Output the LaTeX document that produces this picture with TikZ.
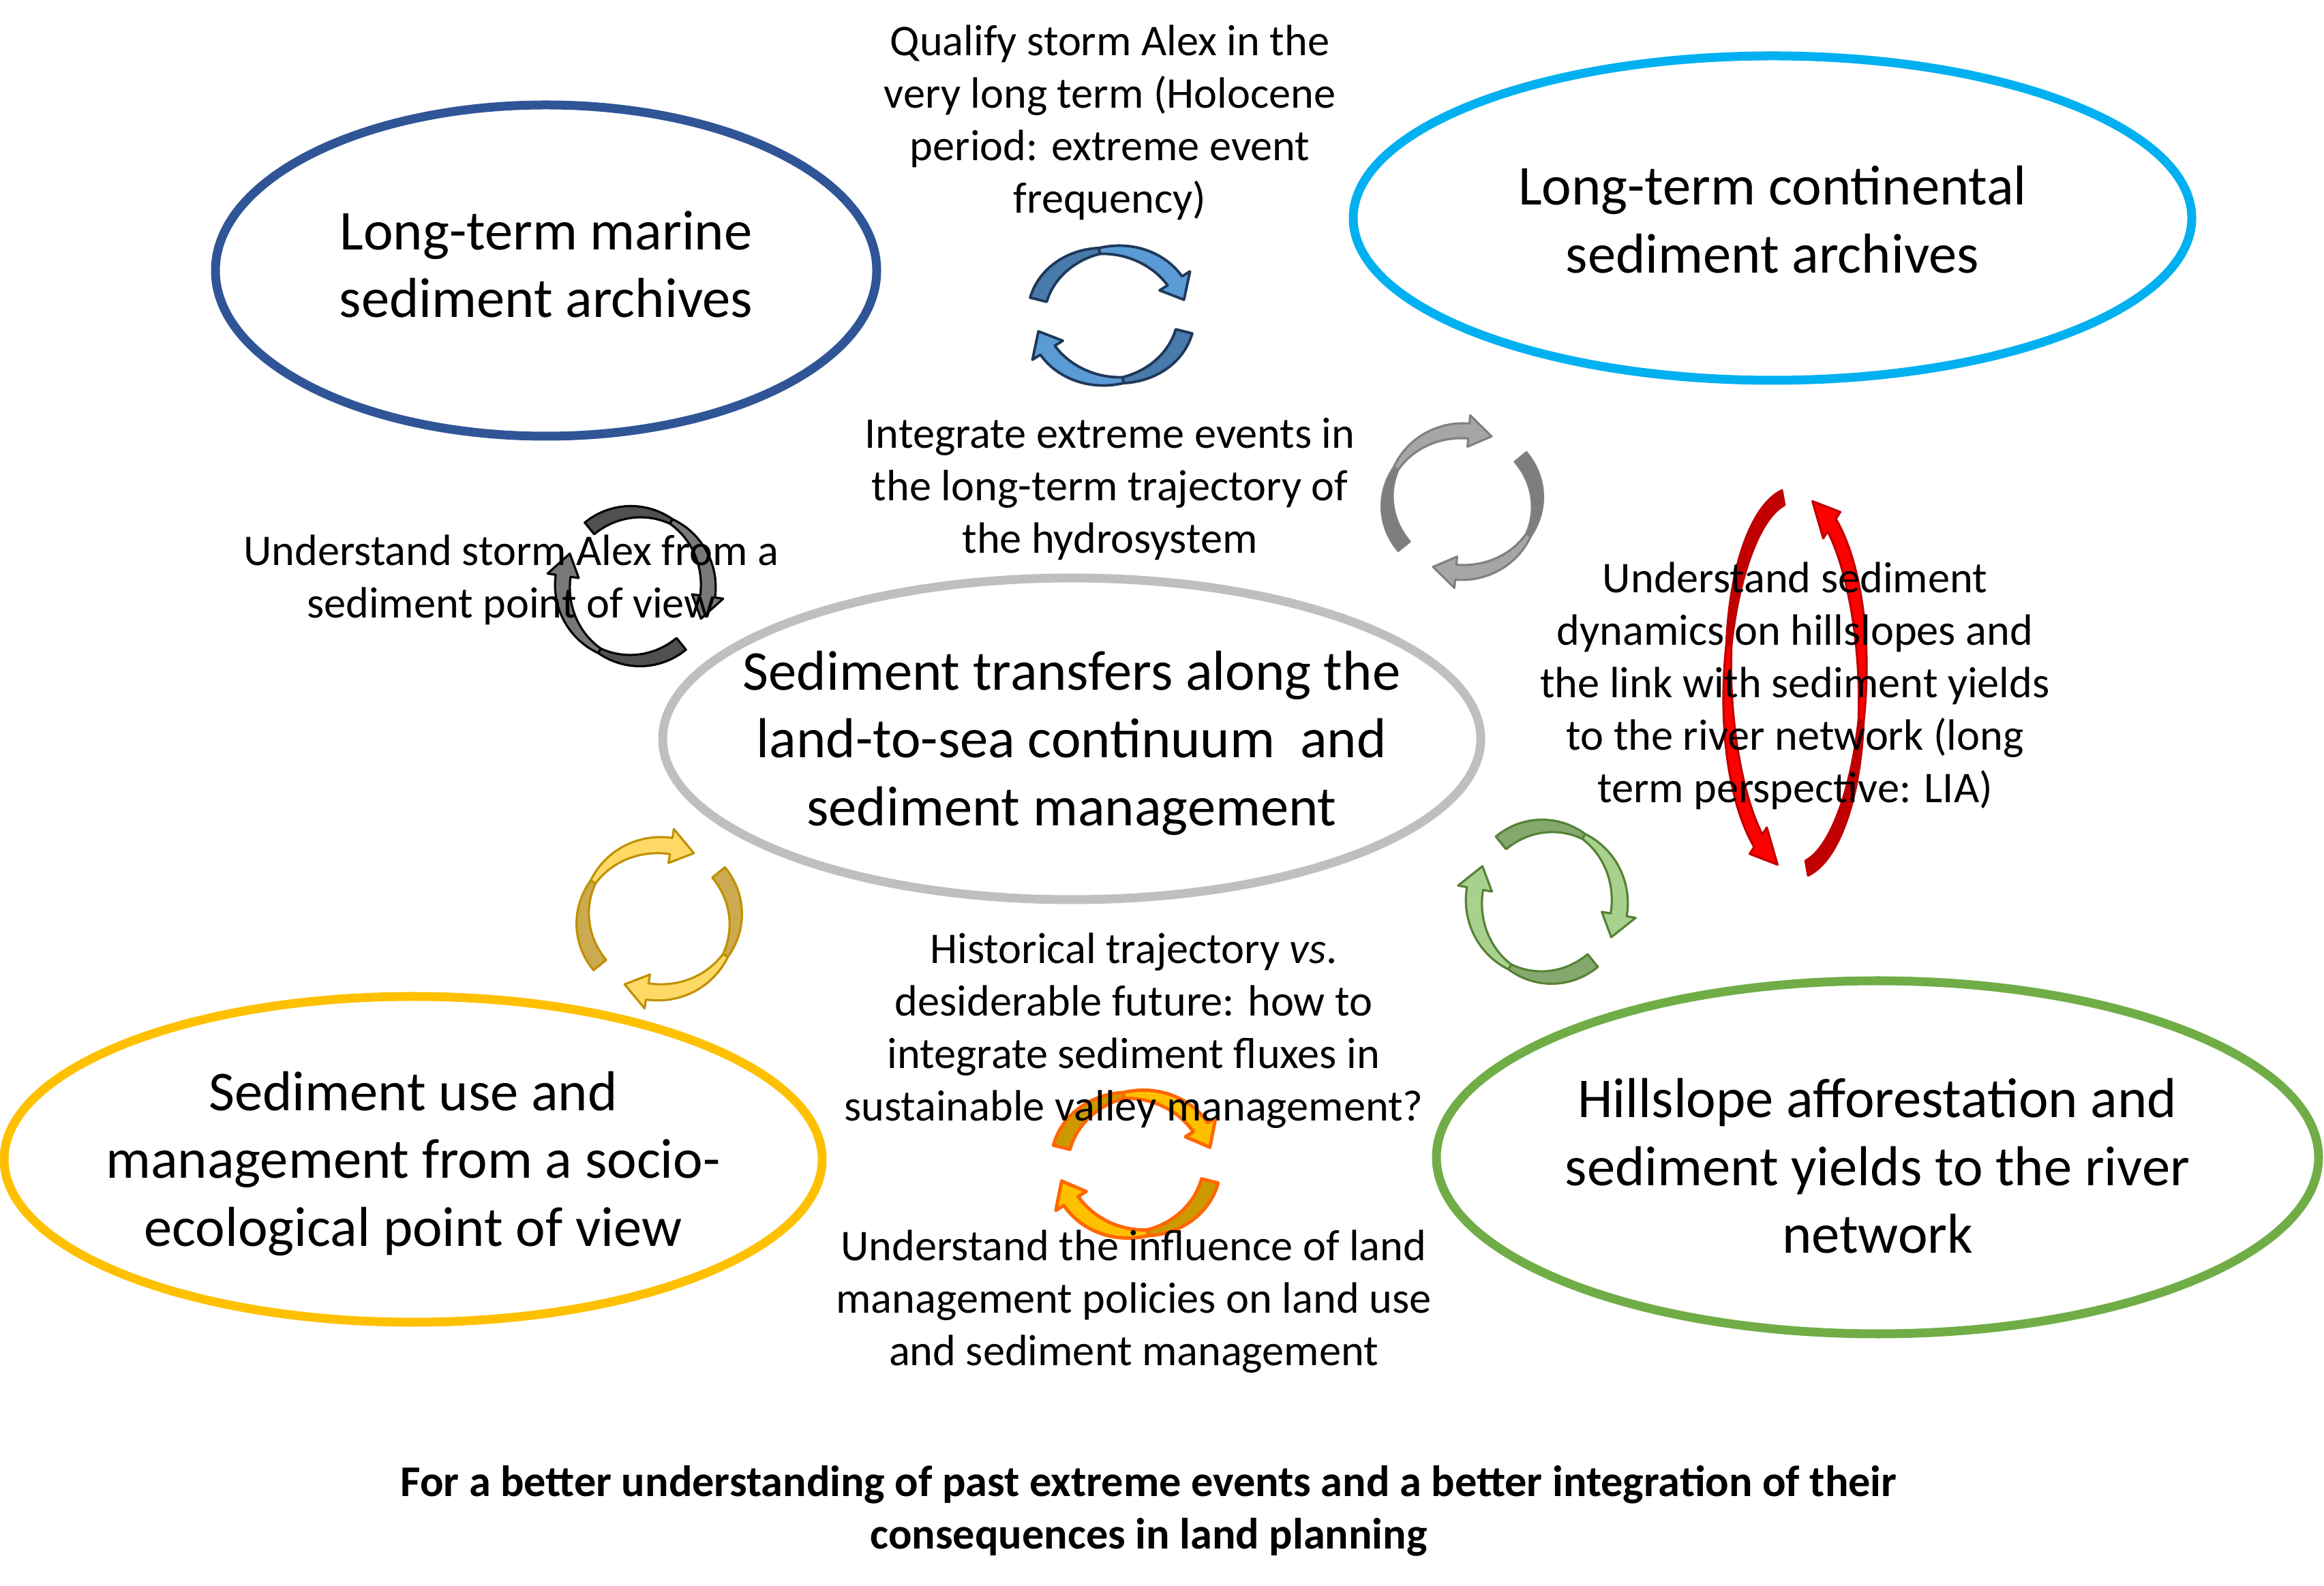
\documentclass[tikz,border=0pt]{standalone}
\usepackage{fontspec}
\setmainfont{Carlito}
\usetikzlibrary{shapes.geometric}
\definecolor{marineBlue}{RGB}{47,85,151}
\definecolor{contBlue}{RGB}{0,176,240}
\definecolor{coreGrey}{RGB}{191,191,191}
\definecolor{useYellow}{RGB}{255,192,0}
\definecolor{slopeGreen}{RGB}{112,173,71}
% colours of the circular arrows (back = tail half, front = head half)
\definecolor{blueBack}{RGB}{72,122,172}
\definecolor{blueFront}{RGB}{91,155,213}
\definecolor{blueLine}{RGB}{31,56,90}
\definecolor{greyBack}{RGB}{125,125,125}
\definecolor{greyFront}{RGB}{166,166,166}
\definecolor{greyLine}{RGB}{128,128,128}
\definecolor{darkBack}{RGB}{80,80,80}
\definecolor{darkFront}{RGB}{120,120,120}
\definecolor{redBack}{RGB}{192,0,0}
\definecolor{redFront}{RGB}{255,0,0}
\definecolor{yelBack}{RGB}{204,170,80}
\definecolor{yelFront}{RGB}{255,217,102}
\definecolor{yelLine}{RGB}{191,144,0}
\definecolor{greenBack}{RGB}{133,168,110}
\definecolor{greenFront}{RGB}{169,209,142}
\definecolor{greenLine}{RGB}{84,130,53}
\definecolor{orBack}{RGB}{204,153,0}
\definecolor{orFront}{RGB}{255,192,0}
\definecolor{orLine}{RGB}{255,102,0}

% one arc of a circular arrow: rx, ry, tail angle, tip angle, band width, colour prefix
\newcommand{\cycarc}[6]{%
  \pgfmathsetmacro\cycfrom{#3}%
  \pgfmathsetmacro\cycto{#4}%
  \pgfmathsetmacro\cycbase{\cycto-18*sign(\cycto-\cycfrom)}%
  \pgfmathsetmacro\cycmid{(\cycfrom+\cycbase)/2}%
  \pgfmathsetmacro\cycfac{180/(\cycbase-(\cycfrom))}%
  \def\cychw{#5/2*(0.35+0.65*abs(cos(\cycfac*(\x-(\cycfrom)))))}%
  \filldraw[#6back]
    plot[domain=\cycfrom:\cycmid] ({(#1+\cychw)*cos(\x)},{(#2+\cychw)*sin(\x)})
    -- plot[domain=\cycmid:\cycfrom] ({(#1-\cychw)*cos(\x)},{(#2-\cychw)*sin(\x)}) -- cycle;
  \filldraw[#6front]
    plot[domain=\cycmid:\cycbase] ({(#1+\cychw)*cos(\x)},{(#2+\cychw)*sin(\x)})
    -- ({(#1+1.05*#5)*cos(\cycbase)},{(#2+1.05*#5)*sin(\cycbase)})
    -- ({#1*cos(\cycto)},{#2*sin(\cycto)})
    -- ({(#1-1.05*#5)*cos(\cycbase)},{(#2-1.05*#5)*sin(\cycbase)})
    -- plot[domain=\cycbase:\cycmid] ({(#1-\cychw)*cos(\x)},{(#2-\cychw)*sin(\x)}) -- cycle;
}
% two arcs, the second turned by 180 degrees
\newcommand{\cycarrow}[7]{%
  \begin{scope}[shift={#1}]
    \cycarc{#2}{#3}{#4}{#5}{#6}{#7}
    \cycarc{#2}{#3}{#4+180}{#5+180}{#6}{#7}
  \end{scope}}

\begin{document}
\begin{tikzpicture}[
  box/.style={ellipse, line width=3.7pt, inner sep=0pt},
  bigtext/.style={align=center, font=\fontsize{23.5}{28.3}\selectfont},
  smalltext/.style={align=center, font=\fontsize{18.3}{21.9}\selectfont},
  cyc/.style={line width=0.9pt, line join=round},
  blueback/.style={cyc, fill=blueBack, draw=blueLine, line width=1.1pt},
  bluefront/.style={cyc, fill=blueFront, draw=blueLine, line width=1.1pt},
  greyback/.style={cyc, fill=greyBack, draw=greyLine},
  greyfront/.style={cyc, fill=greyFront, draw=greyLine},
  darkback/.style={cyc, fill=darkBack, draw=black},
  darkfront/.style={cyc, fill=darkFront, draw=black},
  redback/.style={cyc, fill=redBack, draw=redBack},
  redfront/.style={cyc, fill=redFront, draw=redBack},
  yelback/.style={cyc, fill=yelBack, draw=yelLine},
  yelfront/.style={cyc, fill=yelFront, draw=yelLine},
  greenback/.style={cyc, fill=greenBack, draw=greenLine},
  greenfront/.style={cyc, fill=greenFront, draw=greenLine},
  orback/.style={cyc, fill=orBack, draw=orLine, line width=1.4pt},
  orfront/.style={cyc, fill=orFront, draw=orLine, line width=1.4pt},
]
\useasboundingbox (0,0) rectangle (34.09,23.26);

% the five themes
\node[box, draw=marineBlue, minimum width=9.70cm, minimum height=4.86cm] (marine) at (8.01,19.29) {};
\node[box, draw=contBlue, minimum width=12.30cm, minimum height=4.76cm] (cont) at (26.00,20.06) {};
\node[box, draw=coreGrey, minimum width=12.00cm, minimum height=4.72cm] (core) at (15.72,12.42) {};
\node[box, draw=useYellow, minimum width=12.00cm, minimum height=4.78cm] (use) at (6.06,6.25) {};
\node[box, draw=slopeGreen, minimum width=12.94cm, minimum height=5.18cm] (slope) at (27.54,6.28) {};

% circular arrows (under the texts)
\cycarrow{(16.30,18.63)}{1.10}{0.96}{166}{14}{0.25}{blue}
\cycarrow{(21.45,15.90)}{1.10}{1.04}{219}{67}{0.22}{grey}
\cycarrow{(9.32,14.66)}{1.07}{1.09}{129}{-26}{0.22}{dark}
\cycarrow{(26.33,13.24)}{0.99}{2.76}{100}{255}{0.22}{red}
\cycarrow{(9.67,9.78)}{1.12}{1.08}{219}{63}{0.24}{yel}
\cycarrow{(22.69,10.03)}{1.07}{1.11}{129}{-28}{0.24}{green}
\cycarrow{(16.66,6.18)}{1.12}{1.02}{166}{14}{0.25}{or}

\node[bigtext] (marinetxt) at ([yshift=0.09cm]marine) {Long-term marine\\sediment archives};
\node[bigtext] (conttxt) at ([yshift=-0.02cm]cont) {Long-term continental\\sediment archives};
\node[bigtext] (coretxt) at ([yshift=-0.06cm]core) {Sediment transfers along the\\land-to-sea continuum~ and\\sediment management};
\node[bigtext] (usetxt) at ([yshift=-0.06cm]use) {Sediment use and\\management from a socio-\\ecological point of view};
\node[bigtext] (slopetxt) at ([yshift=-0.13cm]slope) {Hillslope afforestation and\\sediment yields to the river\\network};

% questions between the themes
\node[smalltext] (qualify) at (16.28,21.46) {Qualify storm Alex in the\\very long term (Holocene\\period: extreme event\\frequency)};
\node[smalltext] (integrate) at (16.28,16.08) {Integrate extreme events in\\the long-term trajectory of\\the hydrosystem};
\node[smalltext] (storm) at (7.50,14.75) {Understand storm Alex from a\\sediment point of view};
\node[smalltext] (dynamics) at (26.33,13.20) {Understand sediment\\dynamics on hillslopes and\\the link with sediment yields\\to the river network (long\\term perspective: LIA)};
\node[smalltext] (history) at (16.63,8.14) {Historical trajectory \textit{vs}.\\desiderable future: how to\\integrate sediment fluxes in\\sustainable valley management?};
\node[smalltext] (policy) at (16.63,4.16) {Understand the influence of land\\management policies on land use\\and sediment management};

\node[smalltext, font=\fontsize{18.3}{21.9}\selectfont\bfseries] (goal) at (16.85,1.09)
  {For a better understanding of past extreme events and a better integration of their\\consequences in land planning};

\end{tikzpicture}
\end{document}
